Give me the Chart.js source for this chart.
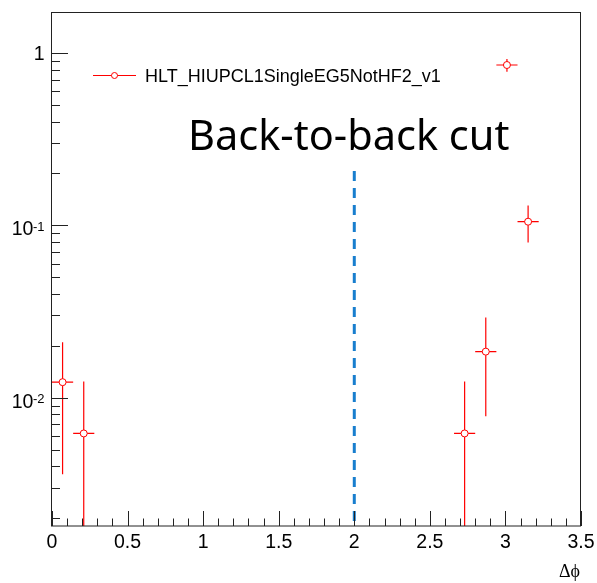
<!DOCTYPE html>
<html>
<head>
<meta charset="utf-8">
<script src="https://cdn.jsdelivr.net/npm/chart.js@4.4.0/dist/chart.umd.min.js"></script>
<style>
  html, body { margin: 0; padding: 0; background: #fff; }
  #wrap { width: 597px; height: 583px; position: relative; }
</style>
</head>
<body>
<div id="wrap"><canvas id="myChart"></canvas></div>
<script>
// bin centres in delta phi, normalised counts and their errors
const binCenters = [0.07, 0.21, 2.73, 2.87, 3.01, 3.15];
const binHalfWidths = [0.07, 0.07, 0.07, 0.07, 0.07, 0.07];
const fractions = [0.0123, 0.0062, 0.0062, 0.0185, 0.852, 0.105];
const fractionErrors = [0.0087, 0.0062, 0.0062, 0.0107, 0.0725, 0.0255];

// back-to-back cut line
const cutX = [2, 2];
const cutY = [0.207, 0.0018];

// y axis labels (drawn with superscripts)
const yTickValues = [1, 0.1, 0.01];
const yTickBases = ['1', '10', '10'];
const yTickExponents = ['', '-1', '-2'];

const seriesName = 'HLT_HIUPCL1SingleEG5NotHF2_v1';
const cutLabel = 'Back-to-back cut';
const xTitle = '\u0394\u03d5';

const RED = '#ff0000';

const rootStyle = {
    id: 'rootStyle',
    beforeDatasetsDraw(chart) {
        const { ctx, chartArea: ca, scales: { x, y } } = chart;
        ctx.save();
        ctx.beginPath();
        ctx.rect(ca.left, ca.top, ca.right - ca.left, ca.bottom - ca.top);
        ctx.clip();
        ctx.strokeStyle = RED;
        ctx.lineWidth = 1.2;
        binCenters.forEach((c, i) => {
            const px = x.getPixelForValue(c);
            const py = y.getPixelForValue(fractions[i]);
            const lo = fractions[i] - fractionErrors[i];
            const yLo = lo > 0 ? y.getPixelForValue(lo) : ca.bottom;
            const yHi = y.getPixelForValue(fractions[i] + fractionErrors[i]);
            ctx.beginPath();
            ctx.moveTo(px, yLo);
            ctx.lineTo(px, yHi);
            ctx.moveTo(x.getPixelForValue(c - binHalfWidths[i]), py);
            ctx.lineTo(x.getPixelForValue(c + binHalfWidths[i]), py);
            ctx.stroke();
        });
        ctx.restore();
    },
    afterDraw(chart) {
        const { ctx, chartArea: ca, scales: { x, y } } = chart;
        ctx.save();

        // frame
        ctx.strokeStyle = '#222';
        ctx.lineWidth = 1;
        ctx.strokeRect(ca.left - 0.5, ca.top + 0.5, ca.right - ca.left, ca.bottom - ca.top - 0.5);

        // x ticks: major every 0.5, minor every 0.1
        ctx.beginPath();
        for (let i = 0; i <= 35; i++) {
            const px = Math.round(x.getPixelForValue(i / 10)) + 0.5;
            const len = i % 5 === 0 ? 15 : 7.5;
            ctx.moveTo(px, ca.bottom);
            ctx.lineTo(px, ca.bottom - len);
        }
        // y ticks: log decades with 2..9 minors
        for (let e = -3; e <= 0; e++) {
            for (let m = 1; m <= 9; m++) {
                const v = m * Math.pow(10, e);
                if (v < y.min || v > y.max) continue;
                const py = Math.round(y.getPixelForValue(v)) + 0.5;
                ctx.moveTo(ca.left, py);
                ctx.lineTo(ca.left + (m === 1 ? 16 : 8), py);
            }
        }
        ctx.stroke();

        // y labels
        ctx.fillStyle = '#000';
        yTickValues.forEach((v, i) => {
            const py = y.getPixelForValue(v);
            const right = 44.5;
            ctx.textAlign = 'right';
            ctx.textBaseline = 'alphabetic';
            if (!yTickExponents[i]) {
                ctx.font = '19.5px "Liberation Sans"';
                ctx.fillText(yTickBases[i], right, py + 6.7);
            } else {
                ctx.font = '13px "Liberation Sans"';
                const w = ctx.measureText(yTickExponents[i]).width;
                ctx.fillText(yTickExponents[i], right, py + 5.3);
                ctx.font = '19.5px "Liberation Sans"';
                ctx.fillText(yTickBases[i], right - w + 0.5, py + 10);
            }
        });

        // x title
        ctx.font = '18px "Liberation Serif", "DejaVu Serif"';
        ctx.textAlign = 'right';
        ctx.fillText(xTitle, 580, 577);

        // legend
        ctx.strokeStyle = RED;
        ctx.beginPath();
        ctx.moveTo(93, 75.5);
        ctx.lineTo(136, 75.5);
        ctx.stroke();
        ctx.beginPath();
        ctx.arc(114.5, 75.5, 3, 0, Math.PI * 2);
        ctx.fillStyle = '#fff';
        ctx.fill();
        ctx.stroke();
        ctx.fillStyle = '#000';
        ctx.textAlign = 'left';
        ctx.font = '18px "Liberation Sans"';
        ctx.fillText(seriesName, 145, 82);

        // cut annotation
        ctx.font = '41.5px "Noto Sans"';
        ctx.fillText(cutLabel, 188, 150);

        ctx.restore();
    }
};

document.addEventListener('DOMContentLoaded', () => {
    const ctx = document.getElementById('myChart').getContext('2d');
    new Chart(ctx, {
        type: 'scatter',
        data: {
            datasets: [{
                label: seriesName,
                data: binCenters.map((c, i) => ({ x: c, y: fractions[i] })),
                pointStyle: 'circle',
                pointRadius: 3.5,
                pointBorderWidth: 1,
                pointBorderColor: RED,
                pointBackgroundColor: '#fff',
                showLine: false
            }, {
                label: cutLabel,
                data: cutX.map((c, i) => ({ x: c, y: cutY[i] })),
                showLine: true,
                borderColor: 'rgb(24,126,206)',
                borderWidth: 3,
                borderDash: [10, 7],
                pointRadius: 0
            }]
        },
        options: {
            responsive: true,
            maintainAspectRatio: false,
            animation: false,
            layout: { padding: { left: 52, top: 12, right: 16, bottom: 0 } },
            plugins: {
                legend: { display: false },
                tooltip: { enabled: false }
            },
            scales: {
                x: {
                    type: 'linear',
                    min: 0,
                    max: 3.5,
                    border: { display: false },
                    grid: { display: false, drawTicks: false },
                    ticks: {
                        stepSize: 0.5,
                        padding: 5,
                        color: '#000',
                        font: { family: 'Liberation Sans', size: 19.5 },
                        maxRotation: 0,
                        callback: (value) => String(value)
                    },
                    afterFit(scale) {
                        scale.height = 57;
                        scale.paddingLeft = 0;
                        scale.paddingRight = 0;
                    }
                },
                y: {
                    type: 'logarithmic',
                    min: 0.0018,
                    max: 1.73,
                    display: false
                }
            }
        },
        plugins: [rootStyle]
    });
});
</script>
</body>
</html>
